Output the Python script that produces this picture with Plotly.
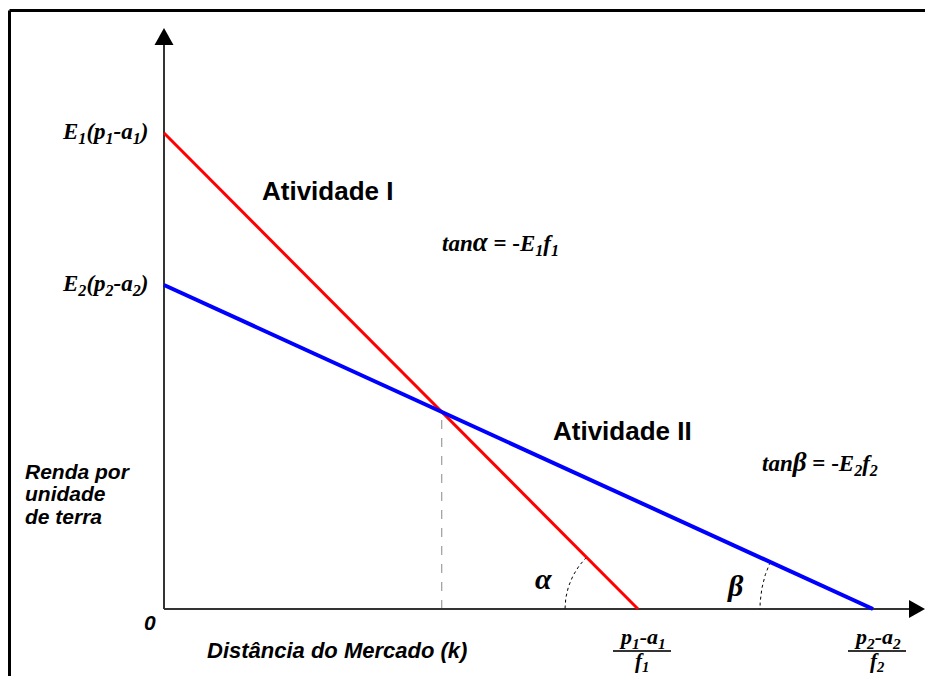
import numpy as np
import plotly.graph_objects as go

# ---- data (abstract units; 1 unit ~ 100 px in the reference) ----
activities = ["Atividade I", "Atividade II"]
intercept_y = [4.76, 3.24]      # E1(p1-a1), E2(p2-a2)
intercept_x = [4.74, 7.09]      # (p1-a1)/f1, (p2-a2)/f2
line_colors = ["#ff0000", "#0000ff"]
y_tick_labels = ["<i><b>E<sub>1</sub>(p<sub>1</sub>-a<sub>1</sub>)</b></i>",
                 "<i><b>E<sub>2</sub>(p<sub>2</sub>-a<sub>2</sub>)</b></i>"]
x_tick_num = ["<i><b>p<sub>1</sub>-a<sub>1</sub></b></i>", "<i><b>p<sub>2</sub>-a<sub>2</sub></b></i>"]
x_tick_den = ["<i><b>f<sub>1</sub></b></i>", "<i><b>f<sub>2</sub></b></i>"]
slope_labels = ["<i><b>tan</b></i><i><b><span style='font-size:27px'>α</span></b></i><b> = -</b><i><b>E<sub>1</sub>f<sub>1</sub></b></i>",
                "<i><b>tan</b></i><i><b><span style='font-size:27px'>β</span></b></i><b> = -</b><i><b>E<sub>2</sub>f<sub>2</sub></b></i>"]
angle_labels = ["α", "β"]

# figure sits at page offset 8px (body margin): figure px = reference px - 8
X_MIN, X_MAX = -1.56, 7.61
Y_MIN, Y_MAX = -0.67, 6.01
AX_X_END, AX_Y_END = 7.61, 5.81

SERIF = "Liberation Serif"
SANS = "Liberation Sans"

fig = go.Figure()

# intersection
s = [-intercept_y[i] / intercept_x[i] for i in range(2)]
xi = (intercept_y[1] - intercept_y[0]) / (s[0] - s[1])
yi = intercept_y[0] + s[0] * xi

# dashed guide
fig.add_trace(go.Scatter(x=[xi, xi], y=[0, yi], mode="lines",
                         line=dict(color="#888888", width=1, dash="dash"),
                         hoverinfo="skip", showlegend=False))

# axes
fig.add_trace(go.Scatter(x=[0, 0], y=[0, AX_Y_END - 0.12], mode="lines",
                         line=dict(color="#333333", width=2), hoverinfo="skip", showlegend=False))
fig.add_trace(go.Scatter(x=[0, AX_X_END - 0.12], y=[0, 0], mode="lines",
                         line=dict(color="#333333", width=2), hoverinfo="skip", showlegend=False))
fig.add_shape(type="path", xref="x", yref="y", fillcolor="black", line=dict(width=0),
              path=f"M 0 {AX_Y_END} L -0.095 {AX_Y_END-0.17} L 0.095 {AX_Y_END-0.17} Z")
fig.add_shape(type="path", xref="x", yref="y", fillcolor="black", line=dict(width=0),
              path=f"M {AX_X_END} 0 L {AX_X_END-0.16} 0.09 L {AX_X_END-0.16} -0.09 Z")

# angle arcs
radii = [0.73, 1.13]
for i in range(2):
    ang = np.pi - np.arctan(-s[i])
    t = np.linspace(ang, np.pi, 40)
    fig.add_trace(go.Scatter(x=intercept_x[i] + radii[i] * np.cos(t),
                             y=radii[i] * np.sin(t), mode="lines",
                             line=dict(color="black", width=1, dash="dot"),
                             hoverinfo="skip", showlegend=False))

# activity lines
widths = [3, 4]
for i in range(2):
    fig.add_trace(go.Scatter(x=[0, intercept_x[i]], y=[intercept_y[i], 0], mode="lines",
                             line=dict(color=line_colors[i], width=widths[i]),
                             name=activities[i], hoverinfo="skip", showlegend=False))

ann = []
def A(x, y, text, size, family, xanchor="center", yanchor="middle", color="black"):
    ann.append(dict(x=x, y=y, xref="x", yref="y", text=text, showarrow=False,
                    xanchor=xanchor, yanchor=yanchor,
                    font=dict(size=size, family=family, color=color)))

for i in range(2):
    A(-0.13, intercept_y[i], y_tick_labels[i], 23, SERIF, xanchor="right")
    A(intercept_x[i] + 0.04, -0.29, x_tick_num[i], 22, SERIF)
    A(intercept_x[i] + 0.04, -0.53, x_tick_den[i], 21, SERIF)
    fig.add_shape(type="line", xref="x", yref="y", x0=intercept_x[i] - 0.25,
                  x1=intercept_x[i] + 0.33, y0=-0.42, y1=-0.42,
                  line=dict(color="#333333", width=2))

A(0.96, 4.18, "<b>Atividade I</b>", 26, SANS, xanchor="left")
A(3.87, 1.78, "<b>Atividade II</b>", 26, SANS, xanchor="left")
A(2.76, 3.66, slope_labels[0], 23, SERIF, xanchor="left")
A(5.96, 1.46, slope_labels[1], 23, SERIF, xanchor="left")
A(3.79, 0.31, "<b><i>α</i></b>", 30, SERIF)
A(5.71, 0.24, "<b><i>β</i></b>", 30, SERIF)
A(-0.14, -0.13, "<b><i>0</i></b>", 21, SANS)
A(0.41, -0.41, "<b><i>Distância do Mercado (k)</i></b>", 22, SANS, xanchor="left")
for txt, yy in zip(["Renda por", "unidade", "de terra"], [1.38, 1.155, 0.93]):
    A(-1.41, yy, f"<b><i>{txt}</i></b>", 21, SANS, xanchor="left")

# frame (top and left)
W, H = 917, 668
fig.add_shape(type="line", xref="paper", yref="paper", x0=1.5/W, x1=1, y0=1-2.5/H, y1=1-2.5/H,
              line=dict(color="black", width=3))
fig.add_shape(type="line", xref="paper", yref="paper", x0=1.5/W, x1=1.5/W, y0=0, y1=1-2.5/H,
              line=dict(color="black", width=3))

fig.update_layout(
    width=W, height=H, margin=dict(l=0, r=0, t=0, b=0),
    paper_bgcolor="white", plot_bgcolor="white",
    xaxis=dict(range=[X_MIN, X_MAX], visible=False, fixedrange=True),
    yaxis=dict(range=[Y_MIN, Y_MAX], visible=False, fixedrange=True),
    annotations=ann, showlegend=False,
)
fig.write_html("out.html")
